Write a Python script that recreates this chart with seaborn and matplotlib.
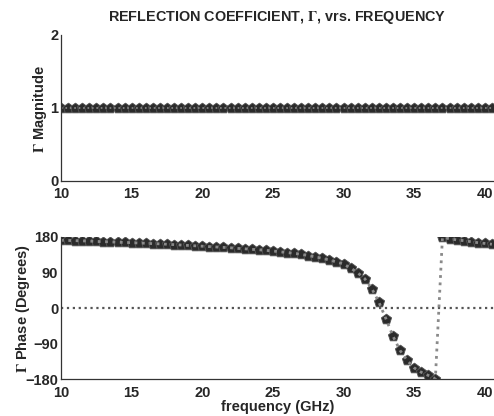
import numpy as np
import pandas as pd
import matplotlib
matplotlib.use("Agg")
import matplotlib.pyplot as plt
import seaborn as sns

# frequency points (GHz), 0.5 GHz step
freq = [10.0, 10.5, 11.0, 11.5, 12.0, 12.5, 13.0, 13.5, 14.0, 14.5,
        15.0, 15.5, 16.0, 16.5, 17.0, 17.5, 18.0, 18.5, 19.0, 19.5,
        20.0, 20.5, 21.0, 21.5, 22.0, 22.5, 23.0, 23.5, 24.0, 24.5,
        25.0, 25.5, 26.0, 26.5, 27.0, 27.5, 28.0, 28.5, 29.0, 29.5,
        30.0, 30.5, 31.0, 31.5, 32.0, 32.5, 33.0, 33.5, 34.0, 34.5,
        35.0, 35.5, 36.0, 36.5, 37.0, 37.5, 38.0, 38.5, 39.0, 39.5,
        40.0, 40.5]

magnitude = [1.0] * len(freq)

phase = [171, 170.5, 170, 169.5, 169, 168, 167.5, 167, 166, 165.5,
         165, 164, 163.5, 162.5, 162, 161, 160, 159, 158, 157,
         156, 155, 154, 153, 152, 150.5, 149.5, 148, 147, 145.5,
         144, 142, 140, 138, 135.5, 132.5, 129, 125.5, 121, 116.5,
         111, 101, 89, 74, 49, 15, -27, -71, -107, -132,
         -151, -162, -170, -178, 178, 175, 172, 170, 167.5, 165,
         163, 161]

x_ticks = [10, 15, 20, 25, 30, 35, 40]
mag_ticks = [0, 1, 2]
phase_ticks = [-180, -90, 0, 90, 180]

df = pd.DataFrame({"freq": freq, "magnitude": magnitude, "phase": phase})

sns.set_style("white")
plt.rcParams["font.family"] = ["Liberation Sans", "DejaVu Sans"]
plt.rcParams["font.weight"] = "bold"
plt.rcParams["mathtext.fontset"] = "stix"
plt.rcParams["xtick.direction"] = "in"
plt.rcParams["ytick.direction"] = "in"

fig = plt.figure(figsize=(4.94, 4.16), dpi=100)
ax1 = fig.add_axes([0.1235, 0.566, 0.8765, 0.350])
ax2 = fig.add_axes([0.1235, 0.088, 0.8765, 0.343])

mark_color = "#2b2b2b"
line_color = "#8a8a8a"

# magnitude
sns.lineplot(data=df, x="freq", y="magnitude", ax=ax1, color=line_color,
             linestyle=":", linewidth=1.2)
sns.scatterplot(data=df, x="freq", y="magnitude", ax=ax1, color=mark_color,
                marker="p", s=60, edgecolor="#555555", linewidth=0.6)

# phase
sns.lineplot(x=[10, 40.65], y=[0, 0], ax=ax2, color="#555555",
             linestyle=":", linewidth=1.6)
sns.lineplot(data=df, x="freq", y="phase", ax=ax2, color=line_color,
             linestyle=":", linewidth=2.0)
sns.scatterplot(data=df, x="freq", y="phase", ax=ax2, color=mark_color,
                marker="p", s=60, edgecolor="#555555", linewidth=0.6)

for ax in (ax1, ax2):
    ax.set_xlim(10, 40.65)
    ax.set_xticks(x_ticks)
    ax.tick_params(axis="x", labelsize=10.5, length=3, width=0.8, pad=5)
    ax.tick_params(axis="y", labelsize=10.5, length=3, width=0.8, pad=2)
    for lbl in ax.get_xticklabels() + ax.get_yticklabels():
        lbl.set_fontweight("bold")
    ax.spines["top"].set_visible(False)
    ax.spines["right"].set_visible(False)
    ax.spines["left"].set_color("#333333")
    ax.spines["bottom"].set_color("#333333")
    ax.spines["left"].set_linewidth(0.9)
    ax.spines["bottom"].set_linewidth(0.9)

ax1.set_ylim(0, 2)
ax1.set_yticks(mag_ticks)
ax2.set_ylim(-180, 180)
ax2.set_yticks(phase_ticks)

ax1.set_xlabel("")
ax1.set_ylabel(r"$\Gamma$ Magnitude", fontsize=10.5, fontweight="bold")
ax2.set_ylabel(r"$\Gamma$ Phase (Degrees)", fontsize=10.5, fontweight="bold")
ax1.yaxis.set_label_coords(-0.028, 0.49)
ax2.yaxis.set_label_coords(-0.066, 0.5)
ax2.set_xlabel("frequency (GHz)", fontsize=10.5, fontweight="bold", labelpad=0)

fig.text(0.561, 0.957, r"REFLECTION COEFFICIENT, $\Gamma$, vrs. FREQUENCY",
         ha="center", va="center", fontsize=10.4, fontweight="bold")

fig.savefig("out.png", dpi=100)
plt.close(fig)
